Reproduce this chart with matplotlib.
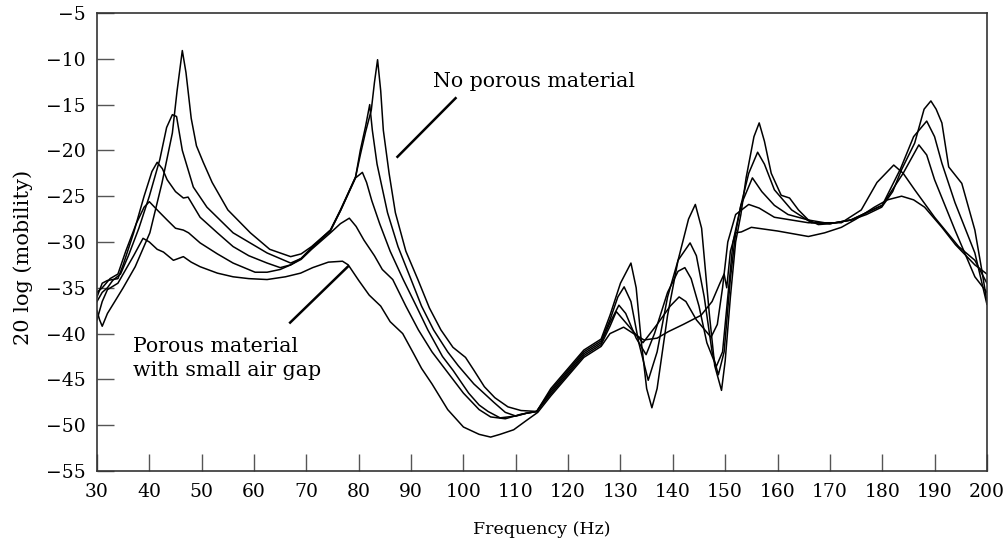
import matplotlib
matplotlib.use("Agg")
import matplotlib.pyplot as plt

plt.rcParams['font.family'] = ['DejaVu Serif']

# curve A: no porous material (sharpest resonances)
freq_a = [30, 30.5, 31, 32, 33.4, 35, 37.3, 40.1, 42.4, 44.4, 45.3, 46.3, 47, 48, 49, 50.3,
          52, 55, 59.3, 63, 67, 69, 71, 74.6, 76.5, 79.4, 80.3, 81.3, 82.4, 83, 83.6, 84.2,
          84.7, 85.8, 87, 89, 91.3, 93.5, 95.7, 98, 100.4, 102, 104, 106, 108.5, 111, 114,
          116.7, 120, 123, 126.3, 128, 130, 132, 133, 134, 135, 136, 137, 139, 141, 143,
          144.3, 145.5, 147, 148, 149.3, 150, 151, 152, 153, 154, 155.5, 156.5, 157.5, 158.8,
          160.7, 162.3, 164, 165.9, 167.8, 170, 174.1, 177, 179.9, 182, 183.7, 186.2, 188,
          189.3, 190.3, 191.4, 192.7, 195.2, 197.7, 199, 200]
mob_a = [-37.5, -38.5, -39.2, -37.8, -36.5, -35, -32.7, -29, -23.6, -18.1, -13.5, -9.1, -11.5,
         -16.5, -19.5, -21.3, -23.5, -26.5, -29, -30.8, -31.6, -31.3, -30.5, -28.7, -26.6,
         -22.9, -20.5, -18, -15.6, -12.6, -10.1, -13.5, -17.8, -22.5, -26.8, -31, -34.1,
         -37.2, -39.6, -41.5, -42.6, -44, -45.8, -47, -48, -48.4, -48.5, -46.0, -43.8, -41.8,
         -40.6, -38, -34.5, -32.3, -35, -41, -46, -48.1, -46, -38, -32, -27.5, -25.9, -28.5,
         -38, -43.5, -46.2, -43, -36, -30, -27, -23, -18.5, -17, -19, -22.5, -24.9, -25.2,
         -26.5, -27.6, -28.1, -28, -27.6, -27, -26.2, -24.5, -22.1, -19.2, -15.5, -14.6,
         -15.5, -17, -21.8, -23.6, -28.7, -33, -36.5]

freq_b = [30, 31, 32, 33, 34.5, 36, 38, 40, 42, 43.3, 44.4, 45.2, 46.3, 48.4, 51, 56, 62.5,
          67, 69, 71, 74.6, 76.5, 79.4, 80.3, 81.3, 82.1, 82.6, 83.5, 85.5, 87.5, 90, 92,
          94.3, 97, 99, 102, 105.8, 108, 110, 112, 114, 116.7, 120, 123, 126.3, 128, 129.5,
          130.7, 132, 133.5, 135.3, 137, 139, 141, 143.3, 144.5, 146, 147.5, 148.7, 149.8,
          151, 152, 153, 154.5, 156.2, 157.5, 159.4, 162.7, 166.5, 170, 174, 180, 183.5, 186,
          188.5, 190, 191.4, 193.9, 197.7, 200]
mob_b = [-36.5, -35.5, -35, -34.2, -33.5, -31.5, -28.5, -25, -21, -17.5, -16.1, -16.3, -20,
         -24, -26.2, -29, -31.2, -32.3, -31.8, -30.6, -28.7, -26.5, -22.9, -20, -17.4, -15,
         -17.8, -21.5, -26.8, -30.5, -34.1, -37, -39.6, -42, -43.5, -45.5, -47.5, -48.6, -49,
         -48.7, -48.5, -46.2, -44, -42, -40.8, -38.5, -36, -34.9, -36.5, -41, -45.1, -42, -36,
         -32, -30.1, -31.5, -36, -42, -44.5, -42, -34, -29, -26, -22.5, -20.2, -21.5, -24.3,
         -26.5, -27.9, -28, -27.6, -26, -22, -18.5, -16.8, -18.5, -21.4, -25.7, -31.2, -36.8]

freq_c = [30, 31, 32, 34, 35, 37, 39, 40.5, 41.5, 42.5, 43.4, 45, 46.5, 47.4, 49.7, 53, 56,
          59, 62.5, 65, 67, 69, 71, 74.6, 76.5, 79.4, 80.7, 81.5, 82.5, 84, 86, 88.5, 91,
          93.2, 96, 98, 101, 103, 104.7, 107, 110, 112, 114, 116.7, 120, 123, 126.3, 128,
          129.7, 131, 133, 134.9, 136.5, 139, 141, 142.3, 143.5, 145, 146.5, 148.3, 149.5,
          150.5, 151.5, 153, 155.2, 157, 159.4, 162, 165.9, 170, 174, 180, 184, 187, 188.5,
          190, 193.9, 197.7, 200]
mob_c = [-36, -34.5, -34.2, -34, -32.5, -29, -25, -22.3, -21.3, -22, -23.2, -24.5, -25.2,
         -25.1, -27.3, -29, -30.5, -31.5, -32.3, -32.8, -32.5, -31.8, -30.7, -28.8, -26.6,
         -23, -22.4, -23.5, -25.5, -28, -31, -34.1, -37, -39.6, -42.5, -44, -46.5, -47.8,
         -48.5, -49.2, -49, -48.7, -48.5, -46.4, -44.2, -42.2, -41, -38.8, -36.9, -37.8,
         -40.5, -42.3, -40, -35.5, -33.2, -32.8, -34, -37, -41, -43.6, -42, -36, -30, -26,
         -23, -24.5, -26, -27, -27.6, -28, -27.6, -26, -22.5, -19.4, -20.5, -23.2, -28.7,
         -33.8, -35.5]

freq_d = [30, 31, 32.5, 34, 35.5, 37.5, 39, 40, 41.5, 43.4, 45, 46.5, 47.5, 49.7, 53, 56,
          60.2, 62.5, 65, 67, 69, 71, 74.6, 76.5, 78.2, 79.5, 81, 83, 84.5, 86.5, 89, 91.4,
          94, 96, 98, 100, 103, 105.2, 108, 111, 114, 116.7, 120, 123, 126.3, 128, 129.2,
          131, 134.3, 137, 139.5, 141.2, 142.5, 144.5, 147.3, 148.5, 149.5, 150.5, 152, 154.5,
          156.5, 159.4, 165.9, 172.2, 176, 179, 182.2, 184, 186.2, 190, 194.6, 197.7, 200]
mob_d = [-35.5, -35, -34, -33.5, -31, -28, -26.2, -25.6, -26.5, -27.6, -28.5, -28.7, -29,
         -30.1, -31.3, -32.3, -33.3, -33.3, -33, -32.5, -31.9, -30.8, -29, -28, -27.4, -28.3,
         -29.8, -31.5, -33, -34.1, -37, -39.6, -42, -43.5, -45, -46.5, -48.3, -49.1, -49.3,
         -48.8, -48.5, -46.6, -44.4, -42.4, -41.2, -39.2, -37.6, -38.8, -41, -39, -37, -36,
         -36.5, -38.5, -40.4, -39, -35, -30, -27, -25.9, -26.3, -27.3, -27.9, -27.9, -26.5,
         -23.5, -21.6, -22.5, -24.3, -27.3, -30.5, -32, -34.5]

# curve E: porous material with small air gap (flattest)
freq_e = [30, 31, 32, 34, 35.5, 37, 38.8, 40, 41.5, 42.7, 44.6, 46.5, 48, 49.7, 53, 56, 59,
          62.5, 66, 68.9, 71.2, 74.2, 76.9, 78, 80, 82, 84.2, 86, 88.4, 90.5, 92, 94, 97,
          100, 103, 105.2, 107, 109.6, 112, 114.2, 116.7, 120, 123, 126.3, 128, 130.6, 132.5,
          134.5, 137, 139.1, 142, 145.4, 147.5, 149, 149.8, 150.3, 151, 152, 153.1, 155, 160,
          165.9, 169, 172.2, 175, 178.5, 181, 183.7, 186, 188.1, 191.4, 194, 197.7, 200]
mob_e = [-38.5, -36.5, -35.2, -34.5, -33, -31.5, -29.6, -30, -30.8, -31.1, -32, -31.6, -32.2,
         -32.7, -33.4, -33.8, -34, -34.1, -33.8, -33.4, -32.8, -32.2, -32.1, -32.5, -34.2,
         -35.8, -37, -38.7, -40, -42.2, -43.8, -45.5, -48.3, -50.2, -51, -51.3, -51, -50.5,
         -49.5, -48.6, -46.8, -44.6, -42.6, -41.4, -40, -39.3, -40, -40.7, -40.5, -39.8, -39,
         -38, -36.5, -34.5, -33.5, -35, -31, -29, -28.9, -28.4, -28.8, -29.4, -29, -28.4,
         -27.5, -26.2, -25.4, -25, -25.4, -26.2, -28.4, -30.3, -32.5, -33.5]

x_ticks = list(range(30, 201, 10))
y_ticks = list(range(-55, -4, 5))

fig = plt.figure(figsize=(10.05, 5.46), dpi=100)
ax = fig.add_axes([0.0965, 0.1374, 0.8855, 0.8388])

for f, m in [(freq_a, mob_a), (freq_b, mob_b), (freq_c, mob_c), (freq_d, mob_d), (freq_e, mob_e)]:
    ax.plot(f, m, color='black', lw=1.1)

ax.set_xlim(30, 200)
ax.set_ylim(-55, -5)
ax.set_xticks(x_ticks)
ax.set_yticks(y_ticks)
ax.tick_params(direction='in', length=12, width=1.0, color='#555555', labelsize=13.5)
ax.tick_params(axis='y', pad=8)
ax.tick_params(axis='x', pad=9)
for s in ax.spines.values():
    s.set_linewidth(1.2)
    s.set_color('#333333')

ax.set_xlabel('Frequency (Hz)', fontsize=12.5)
ax.xaxis.set_label_coords(0.5, -0.11)
ax.set_ylabel('20 log (mobility)', fontsize=15)
ax.yaxis.set_label_coords(-0.072, 0.467)

ax.text(94.1, -12.5, 'No porous material', fontsize=14.8, va='center', ha='left')
ax.plot([98.5, 87.4], [-14.3, -20.7], color='black', lw=1.8)
ax.text(36.9, -42.7, 'Porous material\nwith small air gap', fontsize=14.8, va='center',
        ha='left', linespacing=1.3)
ax.plot([66.9, 77.9], [-38.8, -32.7], color='black', lw=1.8)

fig.savefig('out.png', dpi=100)
